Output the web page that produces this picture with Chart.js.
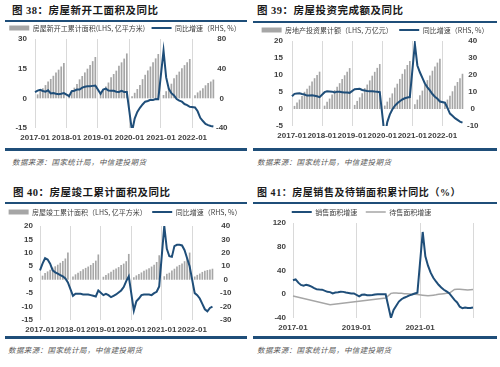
<!DOCTYPE html>
<html><head><meta charset="utf-8">
<script src="https://cdn.jsdelivr.net/npm/chart.js@4.4.1/dist/chart.umd.min.js"></script>
<style>
html,body{margin:0;padding:0;background:#fff;}
body{width:500px;height:367px;position:relative;overflow:hidden;}
.title{position:absolute;font-family:"Liberation Serif","Noto Sans CJK SC",serif;font-weight:bold;font-size:10.5px;line-height:10px;letter-spacing:0.5px;color:#1a1a1a;white-space:nowrap;}
.tl{position:absolute;height:1.5px;background:#1F4E79;}
.bl{position:absolute;height:2.5px;background:#1F4E79;}
.src{position:absolute;font-family:"Noto Sans CJK SC",sans-serif;font-style:italic;font-size:7.5px;line-height:8px;letter-spacing:0.4px;color:#595959;white-space:nowrap;}
canvas{position:absolute;}
</style></head>
<body>
<div class="title" style="left:12px;top:6px">图 38：房屋新开工面积及同比</div>
<div class="tl" style="left:5px;top:20px;width:242px"></div>
<div class="bl" style="left:5px;top:148px;width:242px"></div>
<div class="src" style="left:12px;top:158px">数据来源：国家统计局，中信建投期货</div>

<div class="title" style="left:257px;top:6px">图 39：房屋投资完成额及同比</div>
<div class="tl" style="left:253px;top:21px;width:244px"></div>
<div class="bl" style="left:253px;top:148px;width:244px"></div>
<div class="src" style="left:257px;top:158px">数据来源：国家统计局，中信建投期货</div>

<div class="title" style="left:13px;top:188px">图 40：房屋竣工累计面积及同比</div>
<div class="tl" style="left:5px;top:202px;width:242px"></div>
<div class="bl" style="left:5px;top:336px;width:242px"></div>
<div class="src" style="left:8px;top:346px">数据来源：国家统计局，中信建投期货</div>

<div class="title" style="left:257px;top:188px;font-size:10px;letter-spacing:0.55px">图 41：房屋销售及待销面积累计同比（%）</div>
<div class="tl" style="left:253px;top:202px;width:244px"></div>
<div class="bl" style="left:253px;top:336px;width:244px"></div>
<div class="src" style="left:257px;top:346px">数据来源：国家统计局，中信建投期货</div>

<canvas id="c1"></canvas>
<canvas id="c2"></canvas>
<canvas id="c3"></canvas>
<canvas id="c4"></canvas>

<script>
// ---------- categories (monthly) ----------
const months = [
 "2017-01","2017-02","2017-03","2017-04","2017-05","2017-06","2017-07","2017-08","2017-09","2017-10","2017-11","2017-12",
 "2018-01","2018-02","2018-03","2018-04","2018-05","2018-06","2018-07","2018-08","2018-09","2018-10","2018-11","2018-12",
 "2019-01","2019-02","2019-03","2019-04","2019-05","2019-06","2019-07","2019-08","2019-09","2019-10","2019-11","2019-12",
 "2020-01","2020-02","2020-03","2020-04","2020-05","2020-06","2020-07","2020-08","2020-09","2020-10","2020-11","2020-12",
 "2021-01","2021-02","2021-03","2021-04","2021-05","2021-06","2021-07","2021-08","2021-09","2021-10","2021-11","2021-12",
 "2022-01","2022-02","2022-03","2022-04","2022-05","2022-06","2022-07","2022-08","2022-09","2022-10"
];
const months4 = months.slice(0, 69);

// ---------- 图38 新开工 ----------
const newStartArea = [ // 亿平方米, cumulative
 null,2.0,3.8,5.1,6.7,8.5,9.8,11.4,13.0,14.5,16.1,17.9,
 null,2.1,3.8,5.4,7.3,9.6,11.3,13.1,15.0,16.8,18.8,20.9,
 null,2.2,4.2,6.0,8.0,10.6,12.3,14.0,16.5,18.2,20.1,22.7,
 null,1.0,2.8,4.7,6.7,9.7,11.9,14.1,16.1,18.3,20.2,22.4,
 null,1.7,3.6,5.3,7.4,10.1,11.9,13.5,15.2,16.8,18.3,19.9,
 null,1.5,3.0,3.9,5.1,6.6,7.7,8.5,9.5
];
const newStartYoY = [ // %
 8.5,10.4,11.6,9.9,8.9,10.8,6.6,7.1,6.1,5.6,6.2,7.0,
 null,2.9,9.7,10.3,11.8,11.8,14.4,15.7,16.4,16.3,16.8,17.2,
 null,6.0,11.9,13.1,10.5,10.1,10.1,8.9,8.6,10.0,8.6,8.5,
 null,-44.9,-27.2,-18.4,-12.8,-8.3,-4.5,-3.6,-1.9,-2.1,-1.0,-1.2,
 null,64.3,28.2,12.8,6.9,3.8,-0.9,-3.2,-4.5,-7.7,-9.1,-11.4,
 null,-12.2,-17.5,-26.3,-30.6,-34.4,-36.1,-37.2,-38.0
];

// ---------- 图39 投资 ----------
const investCum = [ // 万亿元
 null,0.91,1.93,2.78,3.86,5.06,5.96,6.86,8.06,9.06,10.03,10.98,
 null,0.98,2.11,3.07,4.26,5.56,6.53,7.60,8.86,9.93,10.98,12.03,
 null,1.20,2.38,3.42,4.64,6.16,7.19,8.41,9.80,10.93,12.10,13.22,
 null,1.01,2.17,3.32,4.59,6.29,7.44,8.84,10.35,11.66,12.95,14.14,
 null,1.38,2.76,4.06,5.41,7.22,8.49,9.84,11.26,12.49,13.65,14.76,
 null,1.45,2.77,3.92,5.21,6.83,7.95,9.02,10.36
];
const investYoY = [
 7.5,8.9,9.1,9.3,8.8,8.5,7.9,7.9,8.1,7.8,7.5,7.0,
 null,9.9,10.4,10.3,10.2,9.7,10.2,10.1,9.9,9.7,9.7,9.5,
 null,11.6,11.8,11.9,11.2,10.9,10.6,10.5,10.5,10.3,10.2,9.9,
 null,-16.3,-7.7,-3.3,-0.3,1.9,3.4,4.6,5.6,6.3,6.8,7.0,
 null,38.3,25.6,21.6,18.3,15.0,12.7,10.9,8.8,7.2,6.0,4.4,
 null,3.7,0.7,-2.7,-4.0,-5.4,-6.4,-7.4,-8.0
];

// ---------- 图40 竣工 ----------
const completeArea = [ // 亿平方米
 null,1.5,2.5,3.1,3.7,4.5,5.0,5.6,6.3,7.0,7.9,10.1,
 null,1.2,2.0,2.6,3.2,3.9,4.4,4.9,5.5,6.2,7.1,9.4,
 null,1.1,1.8,2.4,3.0,3.7,4.2,4.7,5.5,6.0,6.9,9.6,
 null,0.9,1.6,2.1,2.7,3.3,3.8,4.3,4.9,5.6,6.6,9.1,
 null,1.3,2.2,2.6,3.4,4.1,4.9,5.5,6.0,6.9,8.0,10.1,
 null,1.2,1.8,2.3,2.9,3.3,3.6,3.8,4.1
];
const completeYoY = [
 7,12,16,15,12,7,5.5,4.5,3.5,2.5,1,-2,
 null,-12,-10.5,-10.5,-10.5,-11,-11,-11,-11.5,-12,-12.5,-8,
 null,-11.5,-10.5,-11.5,-13,-12,-11,-9.5,-8,-5.5,-1,2.5,
 null,-23,-16,-14,-11.5,-11,-11,-11,-11.5,-10,-9,-5,
 null,40,23,17.5,17,25,26,26,25.5,22,16,10,
 null,-10,-11.5,-14,-18,-22,-23.5,-21,-20
];

// ---------- 图41 销售/待售 ----------
const salesYoY = [
 23.5,25.1,19.5,15.7,14.3,16.1,14.7,12.7,10.3,8.2,7.9,7.7,
 null,4.1,3.6,1.3,2.9,3.3,4.2,4.0,2.9,2.2,1.4,1.3,
 null,-3.6,-0.9,-0.3,-1.6,-1.8,-1.3,-0.6,-0.1,0.1,0.2,-0.1,
 null,-39.9,-26.3,-19.3,-12.3,-8.4,-5.8,-4.1,-1.8,-0.4,1.3,2.6,
 null,104.9,63.8,48.1,36.3,27.7,21.5,15.9,11.3,7.6,4.8,1.9,
 null,-9.6,-13.8,-20.9,-23.6,-22.2,-23.1,-23.0,-22.2
];
const pendingYoY = [
 -3,null,null,null,null,null,null,null,null,null,null,null,
 null,null,-17.5,null,null,null,null,null,null,null,null,null,
 null,null,null,null,null,null,null,null,null,null,null,-6.5,
 null,1.5,2,2,1.5,1.5,1,1,0.5,0,0,-0.5,
 null,-1.5,-2,-2.5,-2,-1.5,-1,0,0.5,1,1.5,1.5,
 null,8,8.5,8.5,8,7.5,7,7.5,8
];

// ---------- styling ----------
const NAVY = '#1F4E79', BARGRAY = '#A6A6A6', LGRAY = '#A6A6A6', GRID = '#D9D9D9', TXT = '#404040';
const tickFont = {family: '"Liberation Sans", Arial, sans-serif', size: 8, weight: 'bold'};
const legFont = {family: '"Noto Sans CJK SC", sans-serif', size: 7};

function place(id, g) {
  const c = document.getElementById(id);
  c.width = g.w; c.height = g.h;
  c.style.left = g.left + 'px'; c.style.top = g.top + 'px';
  c.style.width = g.w + 'px'; c.style.height = g.h + 'px';
  return c;
}
function legendFix(h) {
  return { id: 'legendFix', beforeLayout(chart) {
    const lg = chart.legend;
    if (lg && !lg.__fixed) { const f = lg.fit.bind(lg); lg.fit = function(){ f(); this.height = h; }; lg.__fixed = true; }
  }};
}
function build(id, g, datasets, labels, y, y1, showLabel, showGrid) {
  const c = place(id, g);
  const legendH = g.plotTop - g.top;
  const legendPad = g.legendY - g.top - 3.5;
  const xH = g.top + g.h - g.plotBottom;
  const lW = g.plotLeft - g.left;
  const rW = g.left + g.w - g.plotRight;
  const scales = {
    x: { type: 'category', offset: false,
      grid: { offset: false, drawTicks: false, color: ctx => showGrid(labels[ctx.index], ctx.index) ? GRID : 'rgba(0,0,0,0)', lineWidth: 1 },
      border: { display: false },
      ticks: { autoSkip: false, maxRotation: 0, minRotation: 0, padding: 5, color: TXT, font: tickFont,
        callback: function(v, i) { const l = labels[i]; return showLabel(l, i) ? l : ''; } },
      afterFit: s => { s.height = xH; } },
    y: { position: 'left', min: y.min, max: y.max, grid: { display: false, drawTicks: false }, border: { display: false },
      ticks: { stepSize: y.step, padding: y.pad, color: TXT, font: tickFont },
      afterFit: s => { s.width = lW; } }
  };
  let pr = 0;
  if (y1) {
    scales.y1 = { position: 'right', min: y1.min, max: y1.max, grid: { display: false, drawTicks: false }, border: { display: false },
      ticks: { stepSize: y1.step, padding: y1.pad, crossAlign: 'center', color: TXT, font: tickFont },
      afterFit: s => { s.width = rW; } };
  } else { pr = rW; }
  return new Chart(c, {
    type: 'bar',
    data: { labels: labels, datasets: datasets },
    options: {
      responsive: false, animation: false, devicePixelRatio: 1,
      layout: { padding: { left: 0, right: pr, top: 0, bottom: 0 } },
      plugins: {
        tooltip: { enabled: false },
        legend: { position: 'top', align: 'center',
          labels: { usePointStyle: true, pointStyleWidth: 20, boxHeight: 5, padding: legendPad, color: TXT, font: legFont,
            sort: (a, b) => a.datasetIndex - b.datasetIndex } }
      },
      scales: scales
    },
    plugins: [legendFix(legendH)]
  });
}
function barDS(label, data) {
  return { type: 'bar', label: label, data: data, backgroundColor: BARGRAY, borderWidth: 0,
    barPercentage: 0.65, categoryPercentage: 1.0, yAxisID: 'y', order: 1, pointStyle: 'rect' };
}
function lineDS(label, data, color, width, axis, order) {
  return { type: 'line', label: label, data: data, borderColor: color, backgroundColor: color, borderWidth: width,
    pointRadius: 0, tension: 0, spanGaps: true, yAxisID: axis, order: order, pointStyle: 'line' };
}
const isJan = (l) => l && l.endsWith('-01');

build('c1', {left:0, top:18, w:250, h:126, plotTop:39, plotBottom:128, plotLeft:35, plotRight:216, legendY:28},
  [barDS('房屋新开工累计面积(LHS, 亿平方米)', newStartArea), lineDS('同比增速（RHS, %）', newStartYoY, NAVY, 2, 'y1', 0)],
  months, {min:-15, max:30, step:15, pad:8}, {min:-40, max:80, step:40, pad:0}, isJan, isJan);

build('c2', {left:250, top:20, w:250, h:122, plotTop:41, plotBottom:126, plotLeft:292, plotRight:465, legendY:30},
  [barDS('房地产投资累计额（LHS, 万亿元）', investCum), lineDS('同比增速（RHS, %）', investYoY, NAVY, 2, 'y1', 0)],
  months, {min:-5, max:20, step:5, pad:9}, {min:-10, max:40, step:10, pad:2}, isJan, isJan);

build('c3', {left:0, top:203, w:250, h:133, plotTop:226, plotBottom:320, plotLeft:40, plotRight:215, legendY:212},
  [barDS('房屋竣工累计面积（LHS, 亿平方米）', completeArea), lineDS('同比增速（RHS, %）', completeYoY, NAVY, 2, 'y1', 0)],
  months, {min:-15, max:20, step:5, pad:7}, {min:-30, max:40, step:10, pad:5}, isJan, isJan);

const odd01 = (l, i) => l && l.endsWith('-01') && (parseInt(l.slice(0, 4)) % 2 === 1);
build('c4', {left:250, top:200, w:250, h:134, plotTop:223, plotBottom:318, plotLeft:293, plotRight:473, legendY:212},
  [lineDS('销售面积增速', salesYoY, NAVY, 2, 'y', 0), lineDS('待售面积增速', pendingYoY, LGRAY, 1.5, 'y', 1)],
  months4, {min:-40, max:120, step:40, pad:7}, null, odd01, (l, i) => odd01(l, i) || i === months4.length - 1);
</script>
</body></html>
